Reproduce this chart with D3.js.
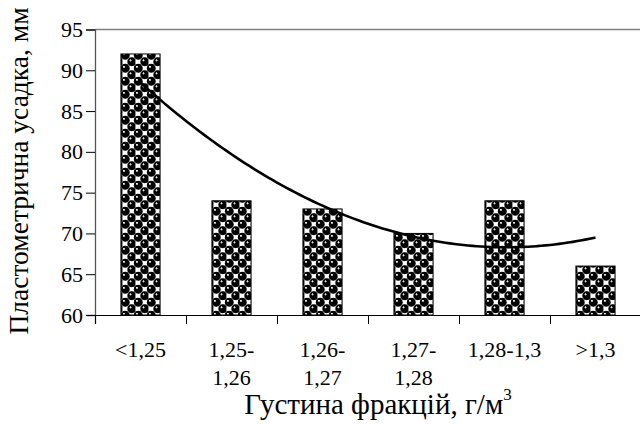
<!DOCTYPE html>
<html>
<head>
<meta charset="utf-8">
<script src="https://cdn.jsdelivr.net/npm/d3@7"></script>
<style>
  html, body { margin: 0; padding: 0; background: #fff; }
  svg { display: block; }
</style>
</head>
<body>
<svg id="chart" width="640" height="424"></svg>
<script>
// Density fractions and plastometric shrinkage values
const categories = ["<1,25", "1,25-1,26", "1,26-1,27", "1,27-1,28", "1,28-1,3", ">1,3"];
const tickLabels = [["<1,25"], ["1,25-", "1,26"], ["1,26-", "1,27"], ["1,27-", "1,28"], ["1,28-1,3"], [">1,3"]];
const shrinkage = [92, 74, 73, 70, 74, 66];
const yTicks = [60, 65, 70, 75, 80, 85, 90, 95];

const SERIF = "'Liberation Serif', 'Times New Roman', serif";
const svg = d3.select("#chart");
const plotLeft = 95, plotRight = 641, plotTop = 29.5, plotBottom = 315;

const x = d3.scaleBand().domain(categories).range([plotLeft, plotRight])
  .paddingInner(0.57).paddingOuter(0.285);
const y = d3.scaleLinear().domain([60, 95]).range([plotBottom, plotTop]);

// Sphere fill pattern for the bars
const defs = svg.append("defs");
const rg = defs.append("radialGradient").attr("id", "ball")
  .attr("cx", "0.5").attr("cy", "0.5").attr("r", "0.5")
  .attr("fx", "0.32").attr("fy", "0.3");
rg.append("stop").attr("offset", "0").attr("stop-color", "#fff");
rg.append("stop").attr("offset", "0.16").attr("stop-color", "#ccc");
rg.append("stop").attr("offset", "0.3").attr("stop-color", "#000");
rg.append("stop").attr("offset", "1").attr("stop-color", "#000");

const T = 13;
const pat = defs.append("pattern").attr("id", "spheres")
  .attr("patternUnits", "userSpaceOnUse").attr("width", T).attr("height", T)
  .attr("x", 122).attr("y", 0);
pat.append("rect").attr("width", T).attr("height", T).attr("fill", "#fff");
[[3 * T / 4, T / 4], [T / 4, 3 * T / 4]].forEach(([cx, cy]) => {
  pat.append("rect").attr("x", cx - 2.9).attr("y", cy - 2.9).attr("width", 5.8).attr("height", 5.8)
    .attr("fill", "#fff").attr("stroke", "#777").attr("stroke-width", 0.9);
});
[[T / 4, T / 4], [3 * T / 4, 3 * T / 4], [T / 4 + T, T / 4], [T / 4, T / 4 + T], [T / 4 - T, 3 * T / 4], [3 * T / 4, 3 * T / 4 - T]]
  .forEach(([cx, cy]) => {
    pat.append("circle").attr("cx", cx).attr("cy", cy).attr("r", 4.4).attr("fill", "url(#ball)");
  });

// Top border of the plot area
svg.append("line").attr("x1", plotLeft).attr("x2", 640).attr("y1", plotTop).attr("y2", plotTop)
  .attr("stroke", "#808080").attr("stroke-width", 1.3);

// Bars
svg.append("g").selectAll("rect").data(shrinkage).join("rect")
  .attr("x", (d, i) => x(categories[i]))
  .attr("y", d => y(d))
  .attr("width", x.bandwidth())
  .attr("height", d => y(60) - y(d))
  .attr("fill", "url(#spheres)")
  .attr("stroke", "#000").attr("stroke-width", 1);

// Second-order polynomial trend line fitted to the bar values
function polyFit2(xs, ys) {
  const s = [0, 0, 0, 0, 0], t = [0, 0, 0];
  xs.forEach((xv, i) => {
    for (let k = 0; k < 5; k++) s[k] += Math.pow(xv, k);
    for (let k = 0; k < 3; k++) t[k] += ys[i] * Math.pow(xv, k);
  });
  const A = [[s[0], s[1], s[2], t[0]], [s[1], s[2], s[3], t[1]], [s[2], s[3], s[4], t[2]]];
  for (let i = 0; i < 3; i++) {
    for (let j = i + 1; j < 3; j++) {
      const f = A[j][i] / A[i][i];
      for (let k = i; k < 4; k++) A[j][k] -= f * A[i][k];
    }
  }
  const c = [0, 0, 0];
  for (let i = 2; i >= 0; i--) {
    let v = A[i][3];
    for (let k = i + 1; k < 3; k++) v -= A[i][k] * c[k];
    c[i] = v / A[i][i];
  }
  return c;
}
const idx = shrinkage.map((d, i) => i + 1);
const coef = polyFit2(idx, shrinkage);
const trend = d3.range(1, 6.001, 0.05).map(t => [t, coef[0] + coef[1] * t + coef[2] * t * t]);
const xIdx = d3.scaleLinear().domain([1, 6])
  .range([x(categories[0]) + x.bandwidth() / 2, x(categories[5]) + x.bandwidth() / 2]);
svg.append("path").datum(trend)
  .attr("d", d3.line().x(d => xIdx(d[0])).y(d => y(d[1])).curve(d3.curveBasis))
  .attr("fill", "none").attr("stroke", "#000").attr("stroke-width", 2.6);

// Y axis
const yAxis = svg.append("g").attr("transform", `translate(${plotLeft},0)`)
  .call(d3.axisLeft(y).tickValues(yTicks).tickSize(9).tickPadding(3).tickFormat(d3.format("d")));
yAxis.select(".domain").attr("stroke", "#555").attr("stroke-width", 1.3);
yAxis.selectAll(".tick line").attr("stroke", "#000");
yAxis.selectAll(".tick text")
  .style("font-family", SERIF).style("font-size", "22px").style("fill", "#000");

// X axis with ticks at the category boundaries
const xb = d3.scaleLinear().domain([0, categories.length]).range([plotLeft, plotRight]);
const xAxis = svg.append("g").attr("transform", `translate(0,${plotBottom})`)
  .call(d3.axisBottom(xb).tickValues(d3.range(0, categories.length + 1)).tickSize(9).tickFormat(""));
xAxis.select(".domain").attr("stroke", "#000").attr("stroke-width", 1.2);
xAxis.selectAll(".tick line").attr("stroke", "#000");

// Category labels (wrapped)
const lab = svg.append("g").selectAll("text").data(tickLabels).join("text")
  .attr("text-anchor", "middle")
  .style("font-family", SERIF).style("font-size", "22px")
  .attr("x", (d, i) => x(categories[i]) + x.bandwidth() / 2)
  .attr("y", 357);
lab.selectAll("tspan").data(d => d).join("tspan")
  .attr("x", function () { return this.parentNode.getAttribute("x"); })
  .attr("dy", (d, i) => i === 0 ? 0 : 28)
  .text(d => d);

// Axis titles
svg.append("text").attr("transform", "translate(28,171) rotate(-90)")
  .attr("text-anchor", "middle")
  .style("font-family", SERIF).style("font-size", "27.5px")
  .text("Пластометрична усадка, мм");

const xt = svg.append("text").attr("x", 378).attr("y", 414)
  .attr("text-anchor", "middle")
  .style("font-family", SERIF).style("font-size", "29px");
xt.append("tspan").text("Густина фракцій, г/м");
xt.append("tspan").attr("dy", -14).style("font-size", "17px").text("3");
</script>
</body>
</html>
